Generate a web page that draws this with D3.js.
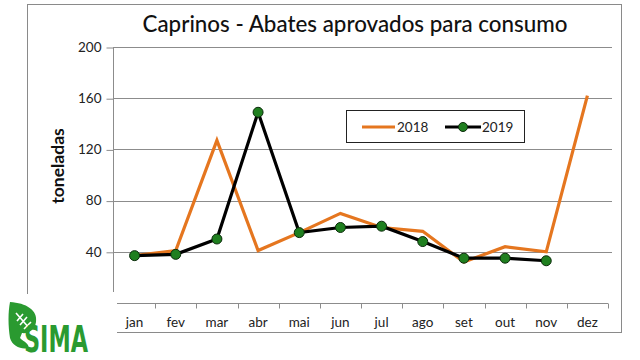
<!DOCTYPE html>
<html><head><meta charset="utf-8">
<script src="https://cdn.jsdelivr.net/npm/d3@7"></script>
<style>body{margin:0;background:#fff}svg{display:block}</style>
</head><body>
<svg id="c" width="640" height="360"></svg>
<script>
const months = ["jan","fev","mar","abr","mai","jun","jul","ago","set","out","nov","dez"];
const s2018 = [37, 41, 127, 41, 55, 70, 59, 56, 32, 44, 40, 162];
const s2019 = [37, 38, 50, 149, 55, 59, 60, 48, 35, 35, 33, null];
const yTicks = [40, 80, 120, 160, 200];
const seriesNames = ["2018", "2019"];
const title = "Caprinos - Abates aprovados para consumo";
const yLabel = "toneladas";

const svg = d3.select("#c");
const font = "Lato, 'Open Sans', sans-serif";
const orange = "#E5761F", green = "#1F7F1F";

// outer border
svg.append("rect").attr("x",27.5).attr("y",4.5).attr("width",594).attr("height",328)
  .attr("fill","#fff").attr("stroke","#8a8a8a").attr("stroke-width",1);

const x = d3.scaleBand().domain(months).range([114, 608]);
const y = d3.scaleLinear().domain([0, 200]).range([303, 47]);

// gridlines
svg.append("g").selectAll("line").data(yTicks).join("line")
  .attr("x1",113).attr("x2",612).attr("y1",d=>Math.round(y(d))+0.5).attr("y2",d=>Math.round(y(d))+0.5)
  .attr("stroke","#8c8c8c").attr("stroke-width",1);

// y axis
const ya = svg.append("g").attr("transform","translate(113.5,0)")
  .call(d3.axisLeft(y).tickValues(yTicks).tickSize(7).tickPadding(5));
ya.select(".domain").remove();
ya.selectAll(".tick line").attr("stroke","#8c8c8c").attr("transform","translate(0,0.5)");
ya.selectAll("text").attr("font-family",font).attr("font-size",13.5).attr("fill","#222");
svg.append("line").attr("x1",113.5).attr("x2",113.5).attr("y1",y(200)).attr("y2",292)
  .attr("stroke","#8c8c8c");

// x axis
const xa = svg.append("g").attr("transform","translate(0,303.5)")
  .call(d3.axisBottom(x).tickSize(0).tickPadding(14));
xa.select(".domain").attr("stroke","#8c8c8c").attr("d","M114,0H608");
xa.selectAll("text").attr("font-family",font).attr("font-size",13.5).attr("fill","#222");
const bounds = months.map(m=>x(m)).concat([x.range()[1]]).slice(1);
xa.selectAll(".bt").data(bounds).join("line").attr("class","bt")
  .attr("x1",d=>Math.round(d)+0.5).attr("x2",d=>Math.round(d)+0.5).attr("y1",0).attr("y2",5)
  .attr("stroke","#8c8c8c");

const cx = m => x(m) + x.bandwidth()/2;

// 2018 line
const line18 = d3.line().defined(d=>d.v!=null).x(d=>cx(d.m)).y(d=>y(d.v));
svg.append("path").datum(months.map((m,i)=>({m,v:s2018[i]})))
  .attr("d",line18).attr("fill","none").attr("stroke",orange).attr("stroke-width",3.2)
  .attr("stroke-linejoin","miter");

// 2019 line
const d19 = months.map((m,i)=>({m,v:s2019[i]}));
svg.append("path").datum(d19).attr("d",line18).attr("fill","none")
  .attr("stroke","#000").attr("stroke-width",3.2);
svg.append("g").selectAll("circle").data(d19.filter(d=>d.v!=null)).join("circle")
  .attr("cx",d=>cx(d.m)).attr("cy",d=>y(d.v)).attr("r",5)
  .attr("fill",green).attr("stroke","#0b2b0b").attr("stroke-width",1);

// title
const t = svg.append("text").attr("x",355).attr("y",32).attr("text-anchor","middle")
  .attr("font-family",font).attr("font-weight",500).attr("font-size",21).attr("fill","#111").text(title);
const tl = t.node().getComputedTextLength();
t.attr("font-size", 21*425/tl);

// y label
svg.append("text").attr("transform","translate(64,166) rotate(-90)").attr("text-anchor","middle")
  .attr("font-family",font).attr("font-weight","bold").attr("font-size",17.5).attr("fill","#111").text(yLabel);

// legend
const lg = svg.append("g");
lg.append("rect").attr("x",346.5).attr("y",110.5).attr("width",178).attr("height",32)
  .attr("fill","#fff").attr("stroke","#222").attr("stroke-width",1);
lg.append("line").attr("x1",362).attr("x2",395).attr("y1",127).attr("y2",127)
  .attr("stroke",orange).attr("stroke-width",3.2);
lg.append("text").attr("x",397).attr("y",132).attr("font-family",font).attr("font-size",13.5)
  .attr("fill","#222").text(seriesNames[0]);
lg.append("line").attr("x1",445).attr("x2",481).attr("y1",127).attr("y2",127)
  .attr("stroke","#000").attr("stroke-width",3.2);
lg.append("circle").attr("cx",463).attr("cy",127).attr("r",4.5).attr("fill",green)
  .attr("stroke","#0b2b0b");
lg.append("text").attr("x",482).attr("y",132).attr("font-family",font).attr("font-size",13.5)
  .attr("fill","#222").text(seriesNames[1]);

// logo
const logo = svg.append("g");
logo.append("rect").attr("x",0).attr("y",294).attr("width",117).attr("height",66).attr("fill","#fff");
const lgGreen = "#2A9A30";
logo.append("path")
  .attr("d","M10,302 C26,303 38,310 36,322 C35,330 28,334 22,333 L20,338 C24,342 30,344 28,348 C22,350 12,346 10,338 C8,326 8,312 10,302 Z")
  .attr("fill",lgGreen);
logo.append("path").attr("d","M16,313 L30,329 M17,321 L23,314 M20,325 L27,317 M24,329 L31,322")
  .attr("stroke","#fff").attr("stroke-width",1.6).attr("fill","none");
logo.append("text").attr("x",24).attr("y",352).attr("font-family","'Liberation Sans Narrow','DejaVu Sans Condensed',sans-serif")
  .attr("font-weight","bold").attr("font-size",37).attr("fill",lgGreen)
  .attr("textLength",64).attr("lengthAdjust","spacingAndGlyphs").text("SIMA");
</script>
</body></html>
